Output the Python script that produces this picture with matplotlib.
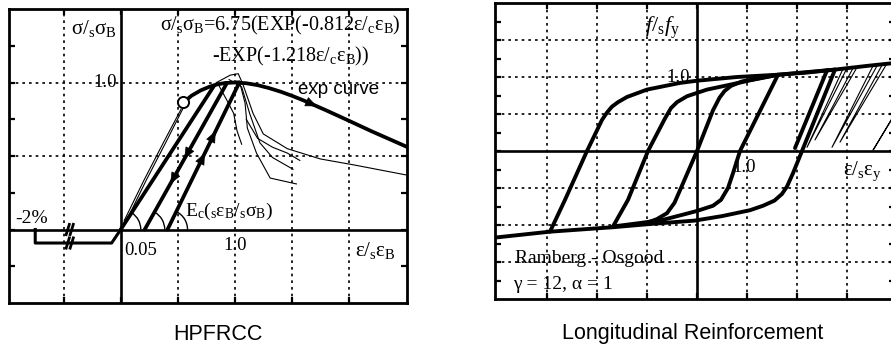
import numpy as np
import matplotlib
matplotlib.use("Agg")
import matplotlib.pyplot as plt
from matplotlib.patches import Arc

plt.rcParams['font.family'] = 'Liberation Serif'
plt.rcParams['mathtext.fontset'] = 'custom'
plt.rcParams['mathtext.rm'] = 'Liberation Serif'
plt.rcParams['mathtext.it'] = 'Liberation Serif:italic'
plt.rcParams['mathtext.bf'] = 'Liberation Serif:bold'
plt.rcParams['mathtext.default'] = 'rm'

# ---------------- HPFRCC data (eps/sEB, sig/sSB) ----------------
# envelope "exp curve"
exp_x = [0.55, 0.62, 0.7, 0.78, 0.85, 0.92, 1.0, 1.1, 1.2, 1.3, 1.4, 1.5, 1.6, 1.8, 2.0, 2.2, 2.51]
exp_y = [0.864, 0.91, 0.946, 0.972, 0.988, 0.997, 1.0, 0.995, 0.982, 0.962, 0.938, 0.91, 0.879, 0.811, 0.740, 0.668, 0.562]
circle_pt = (0.55, 0.864)

# straight unloading / reloading lines: start on strain axis, end on envelope
line_x0 = [0.0, 0.21, 0.41]
line_x1 = [0.82, 0.93, 1.04]
line_y1 = [0.98, 0.995, 1.0]

# thin test curves
test_x = [
    [0.03, 0.2, 0.38, 0.53],
    [0.05, 0.22, 0.4, 0.55],
    [0.84, 0.96, 1.03, 1.07, 1.16, 1.25, 1.46, 1.75, 2.04, 2.51],
    [1.1, 1.2, 1.33, 1.46, 1.57],
    [0.9, 1.04, 1.09, 1.11, 1.19, 1.31, 1.54],
    [0.95, 1.06, 1.13, 1.22, 1.33, 1.51],
    [0.86, 0.93, 0.99, 1.02, 1.06],
]
test_y = [
    [0.06, 0.33, 0.6, 0.82],
    [0.06, 0.33, 0.6, 0.83],
    [1.0, 1.05, 1.06, 0.99, 0.79, 0.65, 0.55, 0.48, 0.44, 0.37],
    [0.75, 0.62, 0.56, 0.52, 0.47],
    [1.0, 1.01, 0.86, 0.69, 0.52, 0.35, 0.31],
    [1.02, 0.97, 0.79, 0.59, 0.49, 0.41],
    [0.98, 0.88, 0.79, 0.67, 0.58],
]

# -2% residual path below the axis
resid_x = [0.0, -0.08, -0.75, -0.75]
resid_y = [0.0, -0.092, -0.092, 0.0]
break_x = [-0.465, -0.43]

# ---------------- Reinforcement data (eps/sEy, f/sfy) ----------------
a1_x = [-1.0, -0.8, -0.6, -0.45, -0.34, 0.0, 0.32, 0.45, 0.55, 0.68, 0.9, 1.3, 1.62]
a1_y = [-0.97, -0.92, -0.84, -0.7, -0.53, 0.0, 0.55, 0.72, 0.81, 0.88, 0.94, 0.99, 1.03]
d1_x = [1.62, 0.86, 0.72, 0.62, 0.48, 0.32, 0.0, -0.28, -0.68, -1.1, -1.68]
d1_y = [1.03, 0.0, -0.3, -0.5, -0.66, -0.74, -0.81, -0.86, -0.93, -0.97, -1.02]
a2_x = [-1.68, -1.38, -0.98, -0.64, -0.52, -0.4, -0.2, 0.2, 0.62, 1.1, 1.62, 2.2, 2.76]
a2_y = [-1.02, -0.66, 0.0, 0.44, 0.58, 0.66, 0.74, 0.83, 0.89, 0.96, 1.03, 1.06, 1.1]
d2_x = [2.76, 2.1, 1.92, 1.8, 1.7, 1.55, 1.32, 1.06, 0.5, -0.04, -1.0, -1.68, -2.94, -4.04]
d2_y = [1.1, 0.0, -0.3, -0.48, -0.58, -0.67, -0.74, -0.8, -0.88, -0.94, -0.99, -1.03, -1.09, -1.17]
a3_x = [-2.94, -2.64, -2.2, -1.9, -1.8, -1.7, -1.58, -1.4, -1.0, -0.34, 0.0, 0.8, 1.6, 2.76, 3.4, 3.96]
a3_y = [-1.09, -0.66, 0.0, 0.42, 0.52, 0.6, 0.66, 0.73, 0.83, 0.92, 0.95, 1.0, 1.03, 1.1, 1.15, 1.19]
extra_x = [2.6, 1.96]
extra_y = [1.09, 0.04]
thin_x = [[2.92, 2.2, 3.0], [3.12, 2.36, 3.2], [3.52, 2.7, 3.6], [3.7, 2.86, 3.78], [3.96, 3.52, 3.98]]
thin_y = [[1.11, 0.05, 1.12], [1.12, 0.15, 1.13], [1.15, 0.05, 1.15], [1.16, 0.12, 1.16], [0.5, 0.01, 0.53]]

W, H = 891, 348
fig = plt.figure(figsize=(W / 100, H / 100), dpi=100)

grid_style = dict(color='k', linestyle=(0, (1.6, 2.4)), linewidth=1.2)


def frame(ax, xlim, ylim, xgrid, ygrid, yminor):
    ax.set_xlim(*xlim)
    ax.set_ylim(*ylim)
    ax.set_xticks(xgrid)
    ax.set_yticks(ygrid)
    ax.set_yticks(yminor, minor=True)
    for v in xgrid:
        if v != 0:
            ax.axvline(v, zorder=0, **grid_style)
    for v in ygrid:
        if v != 0:
            ax.axhline(v, zorder=0, **grid_style)
    ax.axhline(0, color='k', lw=1.9, zorder=2)
    ax.axvline(0, color='k', lw=1.9, zorder=2)
    ax.tick_params(which='both', direction='in', length=4, width=1.6,
                   top=True, right=True, labelbottom=False, labelleft=False)
    for s in ax.spines.values():
        s.set_linewidth(2.0)


def arrow_on(ax, p, d, size=10):
    ax.annotate('', xy=(p[0] + d[0], p[1] + d[1]), xytext=p,
                arrowprops=dict(arrowstyle='-|>,head_length=0.75,head_width=0.32',
                                mutation_scale=size, color='k', lw=0.5,
                                shrinkA=0, shrinkB=0), zorder=5)


# ======================= left panel =======================
ax1 = fig.add_axes([9 / W, 45 / H, 398 / W, 294 / H])
frame(ax1, (-0.98, 2.51), (-0.5, 1.5), [-0.5, 0, 0.5, 1.0, 1.5, 2.0], [0, 0.5, 1.0],
      [-0.25, 0.25, 0.75, 1.25])

for tx, ty in zip(test_x, test_y):
    ax1.plot(tx, ty, color='k', lw=0.8, zorder=3)

ax1.plot(exp_x, exp_y, color='k', lw=2.7, solid_capstyle='round', zorder=4)
ax1.plot(*circle_pt, marker='o', ms=8, mfc='white', mec='k', mew=1.4, zorder=6)

for x0, x1, y1 in zip(line_x0, line_x1, line_y1):
    ax1.plot([x0, x1], [0, y1], color='k', lw=2.7, solid_capstyle='round', zorder=4)
    ang = np.degrees(np.arctan2(y1, x1 - x0))
    ax1.add_patch(Arc((x0, 0), 2 * 20 / 114, 2 * 20 / 147.5, theta1=0, theta2=ang,
                      color='k', lw=1.0, zorder=4))

# arrows: down on the middle line, up on the right line
for (x0, x1, y1), fr, sgn in [((line_x0[1], line_x1[1], line_y1[1]), 0.51, -1),
                              ((line_x0[1], line_x1[1], line_y1[1]), 0.34, -1),
                              ((line_x0[2], line_x1[2], line_y1[2]), 0.49, 1),
                              ((line_x0[2], line_x1[2], line_y1[2]), 0.64, 1)]:
    t = fr / y1
    p = (x0 + t * (x1 - x0), fr)
    arrow_on(ax1, p, (sgn * 0.03 * (x1 - x0), sgn * 0.03 * y1))
xa = 1.66
ya = np.interp(xa, exp_x, exp_y)
arrow_on(ax1, (xa, ya), (0.06, np.interp(xa + 0.06, exp_x, exp_y) - ya))

ax1.plot(resid_x, resid_y, color='k', lw=2.2, zorder=4)
for bx in break_x:
    for by in (0.0, resid_y[1]):
        ax1.plot([bx - 0.014, bx + 0.014], [by - 0.035, by + 0.035], color='k', lw=2.0, zorder=5)

ax1.text(-0.035, 1.37, r'$σ/_{s}σ_{B}$', fontsize=15, ha='right', va='center')
ax1.text(-0.035, 1.0, '1.0', fontsize=13.5, ha='right', va='center')
ax1.text(0.34, 1.385, r'$σ/_{s}σ_{B}$=6.75(EXP(-0.812$ε/_{c}ε_{B}$)', fontsize=14.5,
         ha='left', va='center')
ax1.text(0.8, 1.18, r'-EXP(-1.218$ε/_{c}ε_{B}$))', fontsize=14.5, ha='left', va='center')
ax1.text(1.55, 0.95, 'exp curve', family='Liberation Sans', fontsize=13.5, ha='left', va='center')
ax1.text(0.56, 0.12, r'$E_{c}(_{s}ε_{B}/_{s}σ_{B})$', fontsize=14, ha='left', va='center')
ax1.text(-0.78, 0.075, '-2%', fontsize=14, ha='center', va='center')
ax1.text(0.03, -0.14, '0.05', fontsize=13.5, ha='left', va='center')
ax1.text(1.0, -0.11, '1.0', fontsize=13.5, ha='center', va='center')
ax1.text(2.05, -0.14, r'$ε/_{s}ε_{B}$', fontsize=15, ha='left', va='center')

# ======================= right panel =======================
ax2 = fig.add_axes([495 / W, 49 / H, 400 / W, 296 / H])
frame(ax2, (-4.04, 3.96), (-2, 2), [-3, -2, -1, 0, 1, 2, 3], [-1.5, -1, -0.5, 0, 0.5, 1, 1.5],
      [-1.75, -1.25, -0.75, -0.25, 0.25, 0.75, 1.25, 1.75])

ax2.text(-0.14, 0.99, '1.0', fontsize=13.5, ha='right', va='center', zorder=1)
for tx, ty in zip(thin_x, thin_y):
    ax2.plot(tx, ty, color='k', lw=0.8, zorder=3)
for bx, by in [(a1_x, a1_y), (d1_x, d1_y), (a2_x, a2_y), (d2_x, d2_y), (a3_x, a3_y), (extra_x, extra_y)]:
    ax2.plot(bx, by, color='k', lw=2.8, solid_joinstyle='round', solid_capstyle='round', zorder=4)

ax2.text(-1.04, 1.66, r'$\mathit{f}/_{s}\mathit{f}_{y}$', fontsize=16, ha='left', va='center')
ax2.text(0.94, -0.22, '1.0', fontsize=13.5, ha='center', va='center')
ax2.text(2.92, -0.28, r'$ε/_{s}ε_{y}$', fontsize=15, ha='left', va='center')
ax2.text(-3.64, -1.45, 'Ramberg - Osgood', fontsize=14, ha='left', va='center')
ax2.text(-3.68, -1.81, 'γ = 12, α = 1', fontsize=14, ha='left', va='center')

fig.text(218 / W, 1 - 334 / H, 'HPFRCC', family='Liberation Sans', fontsize=15.5,
         ha='center', va='center')
fig.text(693 / W, 1 - 333 / H, 'Longitudinal Reinforcement', family='Liberation Sans',
         fontsize=15.5, ha='center', va='center')

fig.savefig('out.png', dpi=100)
